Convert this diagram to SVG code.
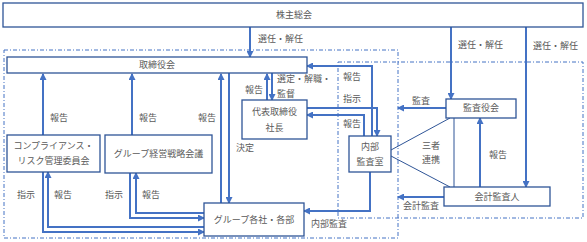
<svg xmlns="http://www.w3.org/2000/svg" width="587" height="242" viewBox="0 0 587 242">
<style>
.bx{fill:#fff;stroke:#2F5597;stroke-width:1.3}
.t{font-family:"Noto Sans CJK JP","Noto Sans",sans-serif;font-size:9px;fill:#595959}
.c{text-anchor:middle}
.ln{fill:none;stroke:#4472C4;stroke-width:2}
.ar{fill:none;stroke:#4472C4;stroke-width:2;marker-end:url(#ah)}
.th{fill:none;stroke:#2F5597;stroke-width:1}
.dd{fill:none;stroke:#4472C4;stroke-width:1;stroke-dasharray:4 2 1 2}
</style>
<defs>
<marker id="ah" markerUnits="userSpaceOnUse" markerWidth="7" markerHeight="7" refX="6" refY="3.5" orient="auto">
<path d="M0,0 L7,3.5 L0,7 z" fill="#4472C4"/>
</marker>
</defs>
<rect width="587" height="242" fill="#fff"/>
<g id="frames">
<rect class="dd" x="4" y="50" width="394" height="188"/>
<rect class="dd" x="338" y="62" width="245" height="156"/>
</g>
<g id="connectors">
<path class="ar" d="M250,27 V57"/>
<path class="ar" d="M451,27 V99"/>
<path class="ar" d="M526,27 V187"/>
<path class="ar" d="M43,135 V74"/>
<path class="ar" d="M132,135 V74"/>
<path class="ar" d="M221,203 V74"/>
<path class="ar" d="M229,73 V203"/>
<path class="ar" d="M267,100 V74"/>
<path class="ar" d="M272,73 V100"/>
<path class="ar" d="M372,136 V66 H307"/>
<path class="ar" d="M307,108 H377 V136"/>
<path class="ar" d="M364,136 V115 H307"/>
<path class="ar" d="M370,172 V211 H304"/>
<path class="ar" d="M43,172 V232 H204"/>
<path class="ar" d="M204,227 H48 V172"/>
<path class="ar" d="M130,173 V218 H204"/>
<path class="ar" d="M204,213 H136 V173"/>
<path class="ar" d="M446,108 H398"/>
<path class="ar" d="M444,197 H398"/>
<path class="ar" d="M480,187 V118"/>
<path class="th" d="M450,118 L391,150 M391,156 L450,187 M454,118 V187"/>
</g>
<g id="n-shareholders"><rect class="bx" x="3" y="3" width="580" height="24"/><text class="t c" x="294" y="18">株主総会</text></g>
<g id="n-board"><rect class="bx" x="7" y="57" width="300" height="16"/><text class="t c" x="157" y="68">取締役会</text></g>
<g id="n-compliance"><rect class="bx" x="7" y="135" width="93" height="37"/><text class="t c" x="53.5" y="149">コンプライアンス・</text><text class="t c" x="53.5" y="164">リスク管理委員会</text></g>
<g id="n-strategy"><rect class="bx" x="105" y="135" width="107" height="38"/><text class="t c" x="158.5" y="157">グループ経営戦略会議</text></g>
<g id="n-group"><rect class="bx" x="204" y="203" width="100" height="33"/><text class="t c" x="254" y="223">グループ各社・各部</text></g>
<g id="n-president"><rect class="bx" x="242" y="100" width="65" height="39"/><text class="t c" x="274.5" y="115">代表取締役</text><text class="t c" x="274.5" y="131">社長</text></g>
<g id="n-audit-office"><rect class="bx" x="349" y="136" width="42" height="36"/><text class="t c" x="370" y="150">内部</text><text class="t c" x="370" y="165">監査室</text></g>
<g id="n-auditors"><rect class="bx" x="446" y="99" width="70" height="19"/><text class="t c" x="481" y="111">監査役会</text></g>
<g id="n-accountant"><rect class="bx" x="444" y="187" width="106" height="19"/><text class="t c" x="497" y="200">会計監査人</text></g>
<g id="labels">
<text class="t" x="258" y="42">選任・解任</text>
<text class="t" x="458" y="48">選任・解任</text>
<text class="t" x="533" y="49">選任・解任</text>
<text class="t" x="50" y="121">報告</text>
<text class="t" x="139" y="121">報告</text>
<text class="t" x="198" y="121">報告</text>
<text class="t" x="236" y="151">決定</text>
<text class="t" x="245" y="93">報告</text>
<text class="t" x="277" y="82">選定・解職・</text>
<text class="t" x="277" y="97">監督</text>
<text class="t" x="343" y="80">報告</text>
<text class="t" x="343" y="102">指示</text>
<text class="t" x="343" y="127">報告</text>
<text class="t" x="412" y="104">監査</text>
<text class="t" x="422" y="149">三者</text>
<text class="t" x="422" y="163">連携</text>
<text class="t" x="489" y="158">報告</text>
<text class="t" x="403" y="209">会計監査</text>
<text class="t" x="311" y="227">内部監査</text>
<text class="t" x="17" y="198">指示</text>
<text class="t" x="54" y="198">報告</text>
<text class="t" x="105" y="198">指示</text>
<text class="t" x="142" y="198">報告</text>
</g>
</svg>
